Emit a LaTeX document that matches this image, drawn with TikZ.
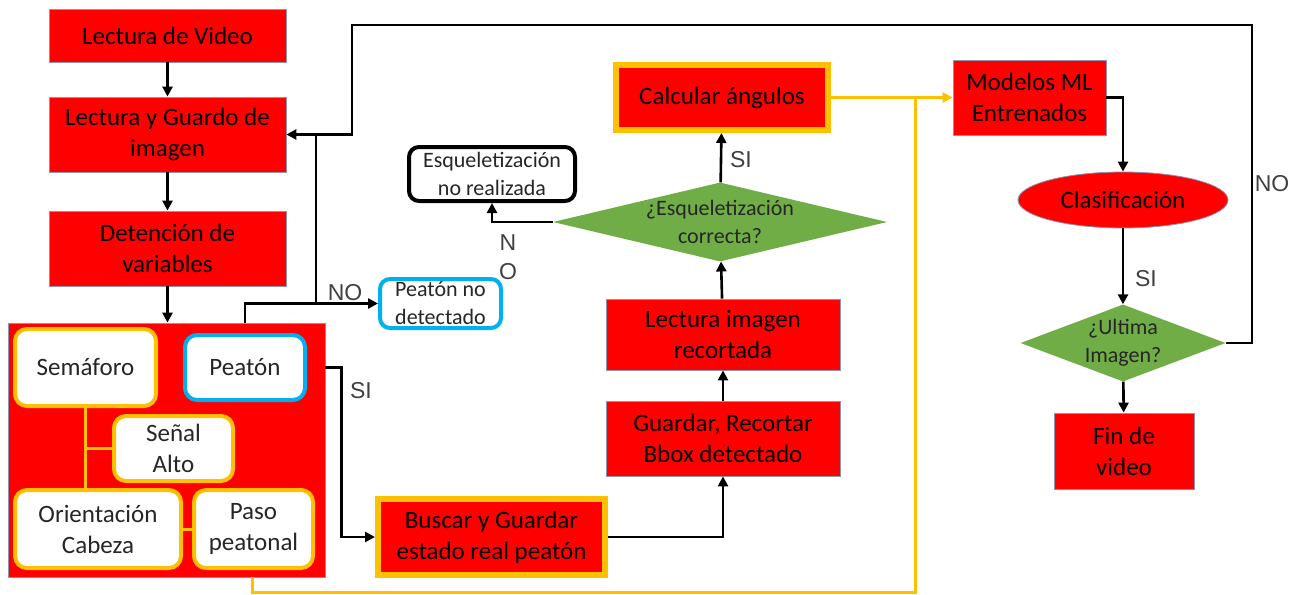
\documentclass[tikz,border=0pt]{standalone}
\usepackage{fontspec}
\setmainfont{Carlito}
\newfontfamily\labfont{Liberation Sans}
\usetikzlibrary{shapes.geometric,arrows.meta}
\definecolor{boxred}{HTML}{FF0000}
\definecolor{boxorange}{HTML}{FFC000}
\definecolor{boxblue}{HTML}{00B0F0}
\definecolor{boxgreen}{HTML}{70AD47}
\definecolor{rimgray}{HTML}{8C96B4}
\begin{document}
\begin{tikzpicture}[x=1pt,y=-1pt,
  bigfont/.style={font=\fontsize{25}{31}\selectfont},
  smallfont/.style={font=\fontsize{22}{28}\selectfont},
  redbox/.style={draw=rimgray, line width=0.8pt, fill=boxred, inner sep=1pt,
    align=center, text=black, bigfont},
  obox/.style={redbox, draw=boxorange, line width=6pt},
  wbox/.style={draw=boxorange, line width=4pt, rounded corners=12pt, fill=white,
    inner sep=1pt, align=center, text=black!85, bigfont},
  bbox/.style={wbox, draw=boxblue},
  kbox/.style={wbox, draw=black, smallfont, rounded corners=10pt},
  decision/.style={diamond, fill=boxgreen, inner sep=0pt, align=center,
    text=black!85, smallfont},
  conn/.style={draw=black, line width=2.6pt, -{Triangle[length=10pt,width=10pt]}},
  plain/.style={draw=black, line width=2.6pt},
  oline/.style={draw=boxorange, line width=3pt},
  oconn/.style={oline, -{Triangle[length=10pt,width=10pt]}},
  lab/.style={font=\labfont\fontsize{23}{26}\selectfont, text=black!75, inner sep=0pt}]
\useasboundingbox (0,0) rectangle (1303,594);

% left column
\node[redbox, minimum width=237pt, minimum height=53pt] (vid) at (167.5,35.5) {Lectura de Video};
\node[redbox, minimum width=237pt, minimum height=75pt] (img) at (167.5,134.5) {Lectura y Guardo de\\imagen};
\node[redbox, minimum width=237pt, minimum height=75pt] (det) at (167.5,248.5) {Detención de\\variables};

% detected variables
\node[redbox, minimum width=317pt, minimum height=254pt] (big) at (166.5,450) {};
\node[wbox, minimum width=141pt, minimum height=77pt] (sem) at (85.5,367.5) {Semáforo};
\node[bbox, minimum width=120pt, minimum height=65pt] (pea) at (245,367.5) {Peatón};
\node[wbox, minimum width=119pt, minimum height=65pt] (sen) at (173.5,448.5) {Señal\\Alto};
\node[wbox, minimum width=166pt, minimum height=78pt] (ori) at (98,529) {Orientación\\Cabeza};
\node[wbox, minimum width=119pt, minimum height=78pt] (paso) at (253.5,529) {Paso\\peatonal};
\draw[oline] (sem.south) -- (sem.south |- ori.north);
\draw[oline] (sen.west) -- (sen.west -| sem.south);
\draw[oline] (ori.east) -- (paso.west);

% pedestrian branch
\node[bbox, smallfont, minimum width=121pt, minimum height=49pt, rounded corners=10pt] (nodet) at (440.5,303.5) {Peatón no\\detectado};
\node[obox, minimum width=227pt, minimum height=76pt] (busc) at (491.5,537) {Buscar y Guardar\\estado real peatón};
\node[redbox, minimum width=234pt, minimum height=75pt] (guar) at (723,438.5) {Guardar, Recortar\\Bbox detectado};
\node[redbox, minimum width=234pt, minimum height=71pt] (lect) at (723,334.5) {Lectura imagen\\recortada};
\node[decision, minimum width=334pt, minimum height=79pt, aspect=4.2] (dia1) at (720,222) {¿Esqueletización\\correcta?};
\node[kbox, minimum width=166pt, minimum height=54pt] (esq) at (492,174) {Esqueletización\\no realizada};
\node[obox, minimum width=212pt, minimum height=65pt] (calc) at (722,97.5) {Calcular ángulos};

% classification column
\node[redbox, minimum width=153pt, minimum height=75pt] (mod) at (1029.5,97.5) {Modelos ML\\Entrenados};
\node[ellipse, draw=rimgray, line width=0.8pt, fill=boxred, bigfont, inner sep=0pt,
  minimum width=210pt, minimum height=56pt] (clas) at (1123,200) {Clasificación};
\node[decision, minimum width=205pt, minimum height=77pt, aspect=2.66] (last) at (1123,343) {¿Ultima\\Imagen?};
\node[redbox, minimum width=140pt, minimum height=76pt] (fin) at (1124,451) {Fin de\\video};

% turning points of the long connectors
\coordinate (lpA) at (1252,25);
\coordinate (lpB) at (352,25);
\coordinate (jn) at (316,0);
\coordinate (noUp) at (245,0);
\coordinate (oc) at (915,592);
\coordinate (ob) at (252,0);

% main flow
\draw[conn] (vid) -- (img);
\draw[conn] (img) -- (det);
\draw[conn] (det.south) -- (det.south |- big.north);
\draw[conn] (big.north -| noUp) |- (nodet.west);
\draw[plain] (jn |- nodet.west) -- (jn |- img.east);
\draw[conn] (big.east |- pea.east) -- ++(16,0) |- (busc.west);
\draw[conn] (busc.east) -| (guar.south);
\draw[conn] (guar) -- (lect);
\draw[conn] (lect) -- (dia1);
\draw[conn] (dia1) -- (calc);
\draw[conn] (dia1.west) -| (esq.south);
\draw[oconn] (calc.east) -- (mod.west);
\draw[oline] (big.south -| ob) |- (oc) -- (oc |- calc.east);
\draw[conn] (mod.east) -| (clas.north);
\draw[conn] (clas) -- (last);
\draw[conn] (last) -- (fin);
\draw[conn] (last.east) -| (lpA) -- (lpB) |- (img.east);

% branch labels
\node[lab] (lno1) at (345,293) {NO};
\node[lab] (lsi1) at (361,391) {SI};
\node[lab] (lsi2) at (741,160) {SI};
\node[lab] (ln) at (508,243) {N};
\node[lab] (lo) at (508,272) {O};
\node[lab] (lsi3) at (1146,279) {SI};
\node[lab] (lno2) at (1272,184) {NO};
\end{tikzpicture}
\end{document}
